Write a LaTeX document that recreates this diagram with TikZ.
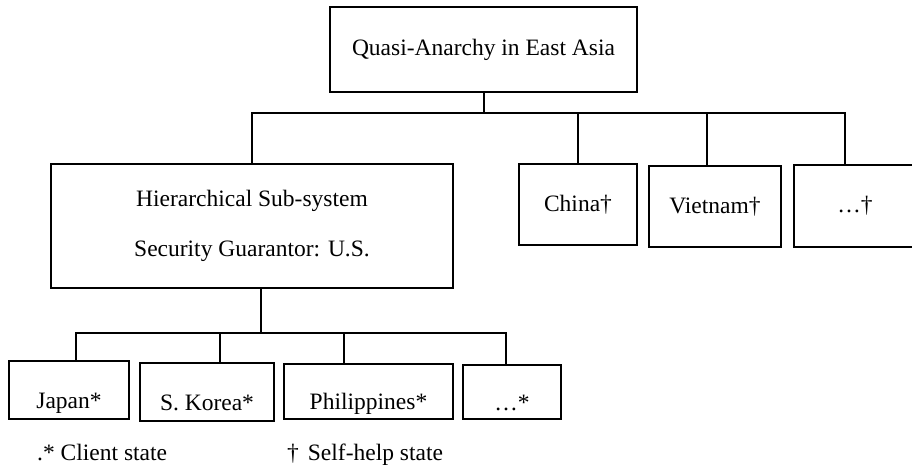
\documentclass[tikz,border=0pt]{standalone}
\usepackage{fontspec}
\setmainfont{Liberation Serif}
\usepackage{tikz}
\usetikzlibrary{calc}
\tikzset{
  box/.style={draw,line width=1.1pt,inner sep=0pt,font=\fontsize{23.5}{28}\selectfont},
  lowbox/.style={box,text height=40pt,text depth=4pt},
  legend/.style={inner sep=0pt,anchor=base west,font=\fontsize{23.5}{28}\selectfont},
  link/.style={line width=1.1pt}
}

\begin{document}
\begin{tikzpicture}[x=1pt,y=-1pt]
\useasboundingbox (0,0) rectangle (912,468);
\node[box,minimum width=307pt,minimum height=85pt] (top) at (483.5,49.5) {Quasi-Anarchy in East Asia};
\node[box,align=center,minimum width=402pt,minimum height=124pt] (hier) at (252,226) {Hierarchical Sub-system\\[22pt]Security Guarantor: U.S.};
\node[box,minimum width=118pt,minimum height=81pt] (china) at (578,204.5) {China†};
\node[box,minimum width=132pt,minimum height=81pt] (vietnam) at (715,206.5) {Vietnam†};
\node[box,minimum width=122pt,minimum height=82pt] (moreA) at (855,206) {…†};
\node[lowbox,minimum width=120pt,minimum height=58pt] (japan) at (69,390) {Japan*};
\node[lowbox,minimum width=134pt,minimum height=58pt] (korea) at (207,392) {S. Korea*};
\node[lowbox,minimum width=169pt,minimum height=55pt] (phil) at (368.5,391.5) {Philippines*};
\node[lowbox,minimum width=98pt,minimum height=54pt] (moreB) at (512,392) {…*};
\node[legend] (client) at (37,460) {.* Client state};
\node[legend] (selfhelp) at (287,460) {†\hspace{9pt}Self-help state};

\coordinate (busA) at (485,113);
\coordinate (busB) at (261,333);
\draw[link] ([xshift=0.5pt]top.south) -- ([xshift=0.5pt]top.south |- busA);
\draw[link] (hier.north) |- (busA) -| ([xshift=-10pt]moreA.north);
\foreach \n/\dx in {china/0,vietnam/-8}
  \draw[link] ([xshift=\dx pt]\n.north) -- ([xshift=\dx pt]\n.north |- busA);
\draw[link] ([xshift=9pt]hier.south) -- ([xshift=9pt]hier.south |- busB);
\draw[link] ([xshift=7pt]japan.north) |- (busB) -| ([xshift=-6pt]moreB.north);
\foreach \n/\dx in {korea/13,phil/-24.5}
  \draw[link] ([xshift=\dx pt]\n.north) -- ([xshift=\dx pt]\n.north |- busB);
\end{tikzpicture}
\end{document}
